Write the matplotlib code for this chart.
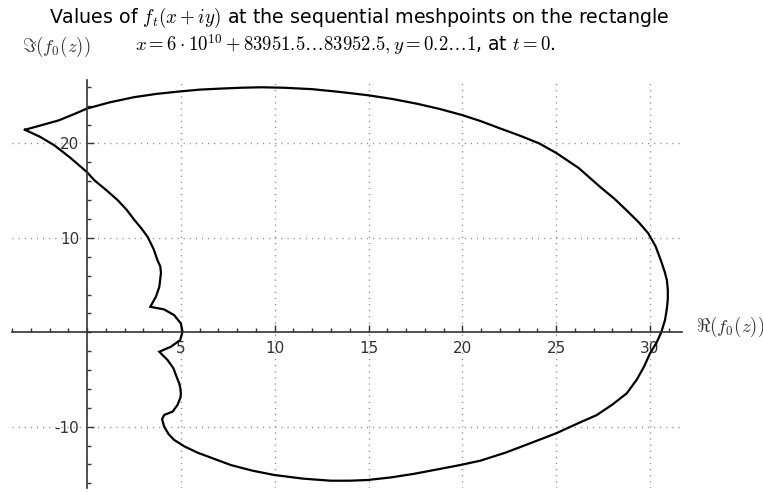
import matplotlib
matplotlib.use("Agg")
import matplotlib.pyplot as plt
from matplotlib.ticker import MultipleLocator, FixedLocator

plt.rcParams['mathtext.fontset'] = 'cm'
plt.rcParams['axes.unicode_minus'] = False

re_vals = [-3.31, -2.4, -1.5, -0.7, 0.0, 1.2, 2.5, 3.7, 4.9, 6.0, 7.0, 8.2,
           9.3, 10.5, 12.0, 13.5, 15.0, 16.3, 17.6, 18.8, 20.0, 21.0, 22.0,
           23.1, 24.1, 25.0, 26.2, 27.34, 28.1, 28.76, 29.4, 29.9, 30.3,
           30.6, 30.8, 30.9, 30.95, 30.95, 30.9, 30.8, 30.6, 30.35, 30.0,
           29.68, 29.3, 28.76, 28.0, 27.16, 26.1, 25.0, 23.6, 22.3, 20.96,
           19.89, 18.6, 17.4, 16.2, 14.93, 14.0, 12.98, 11.5, 9.96, 8.8,
           7.66, 6.9, 5.89, 5.2, 4.64, 4.35, 4.11, 4.0, 4.11, 4.56, 4.82,
           4.98, 5.0, 4.97, 4.91, 4.75, 4.6, 4.29, 3.85, 4.47, 4.96, 5.09,
           5.0, 4.64, 4.11, 3.37, 3.67, 3.85, 3.94, 3.9, 3.76, 3.55, 3.23,
           2.9, 2.52, 2.1, 1.63, 1.0, 0.39, 0.0, -0.9, -1.74, -2.5, -3.31]
im_vals = [21.45, 21.95, 22.45, 23.1, 23.7, 24.35, 24.9, 25.25, 25.5, 25.7,
           25.8, 25.9, 25.95, 25.9, 25.75, 25.45, 25.1, 24.7, 24.2, 23.65,
           23.0, 22.35, 21.6, 20.8, 20.0, 19.0, 17.4, 15.4, 14.15, 12.9,
           11.65, 10.5, 9.1, 7.5, 6.3, 5.5, 4.5, 3.5, 2.5, 1.3, 0.0, -1.1,
           -2.24, -3.65, -5.0, -6.47, -7.65, -8.77, -9.7, -10.7, -11.77,
           -12.75, -13.6, -14.06, -14.55, -15.0, -15.37, -15.65, -15.72,
           -15.72, -15.5, -15.11, -14.65, -14.06, -13.5, -12.75, -12.1, -11.4,
           -10.8, -10.0, -9.2, -8.76, -8.4, -7.7, -6.9, -6.47, -5.9, -5.4,
           -4.6, -3.8, -2.94, -2.06, -1.53, -0.83, 0.05, 0.94, 1.82, 2.42,
           2.7, 3.76, 4.8, 6.3, 7.0, 7.6, 8.8, 10.1, 11.0, 11.9, 13.0, 14.0,
           15.1, 16.1, 16.96, 18.5, 19.8, 20.7, 21.45]

x_major = [5, 10, 15, 20, 25, 30]
y_major = [-10, 10, 20]

fig = plt.figure(figsize=(7.63, 4.92), dpi=100)
ax = fig.add_axes([0.0157, 0.008, 0.878, 0.829])

ax.plot(re_vals, im_vals, color='black', lw=1.6, solid_joinstyle='miter')

ax.set_xlim(-4.0, 31.7)
ax.set_ylim(-16.5, 26.7)

# axes through the origin, sage style
ax.spines['left'].set_position(('data', 0))
ax.spines['bottom'].set_position(('data', 0))
ax.spines['top'].set_visible(False)
ax.spines['right'].set_visible(False)
for s in ['left', 'bottom']:
    ax.spines[s].set_color('#333333')
    ax.spines[s].set_linewidth(1.2)

ax.xaxis.set_major_locator(FixedLocator(x_major))
ax.yaxis.set_major_locator(FixedLocator(y_major))
ax.xaxis.set_minor_locator(MultipleLocator(1))
ax.yaxis.set_minor_locator(MultipleLocator(2))
ax.tick_params(which='both', direction='in', color='#333333', labelcolor='#333333', labelsize=11)
ax.tick_params(which='major', length=5, width=1)
ax.tick_params(which='minor', length=3, width=1)
ax.tick_params(axis='y', pad=5.5)
ax.tick_params(axis='x', pad=6)

ax.grid(True, which='major', color='#888888', linestyle=(0, (0.8, 3.6)), linewidth=1)

fig.text(0.471, 0.963, r"Values of $f_t(x+iy)$ at the sequential meshpoints on the rectangle",
         ha='center', va='center', fontsize=13.7)
fig.text(0.452, 0.909, r"$x=6\cdot10^{10}+83951.5\ldots83952.5, y=0.2\ldots1$, at $t=0$.",
         ha='center', va='center', fontsize=13.5)
fig.text(0.073, 0.904, r"$\Im(f_0(z))$", ha='center', va='center', fontsize=13.5, color='#333333')
fig.text(0.957, 0.335, r"$\Re(f_0(z))$", ha='center', va='center', fontsize=13.5, color='#333333')

fig.savefig("out.png", dpi=100)
